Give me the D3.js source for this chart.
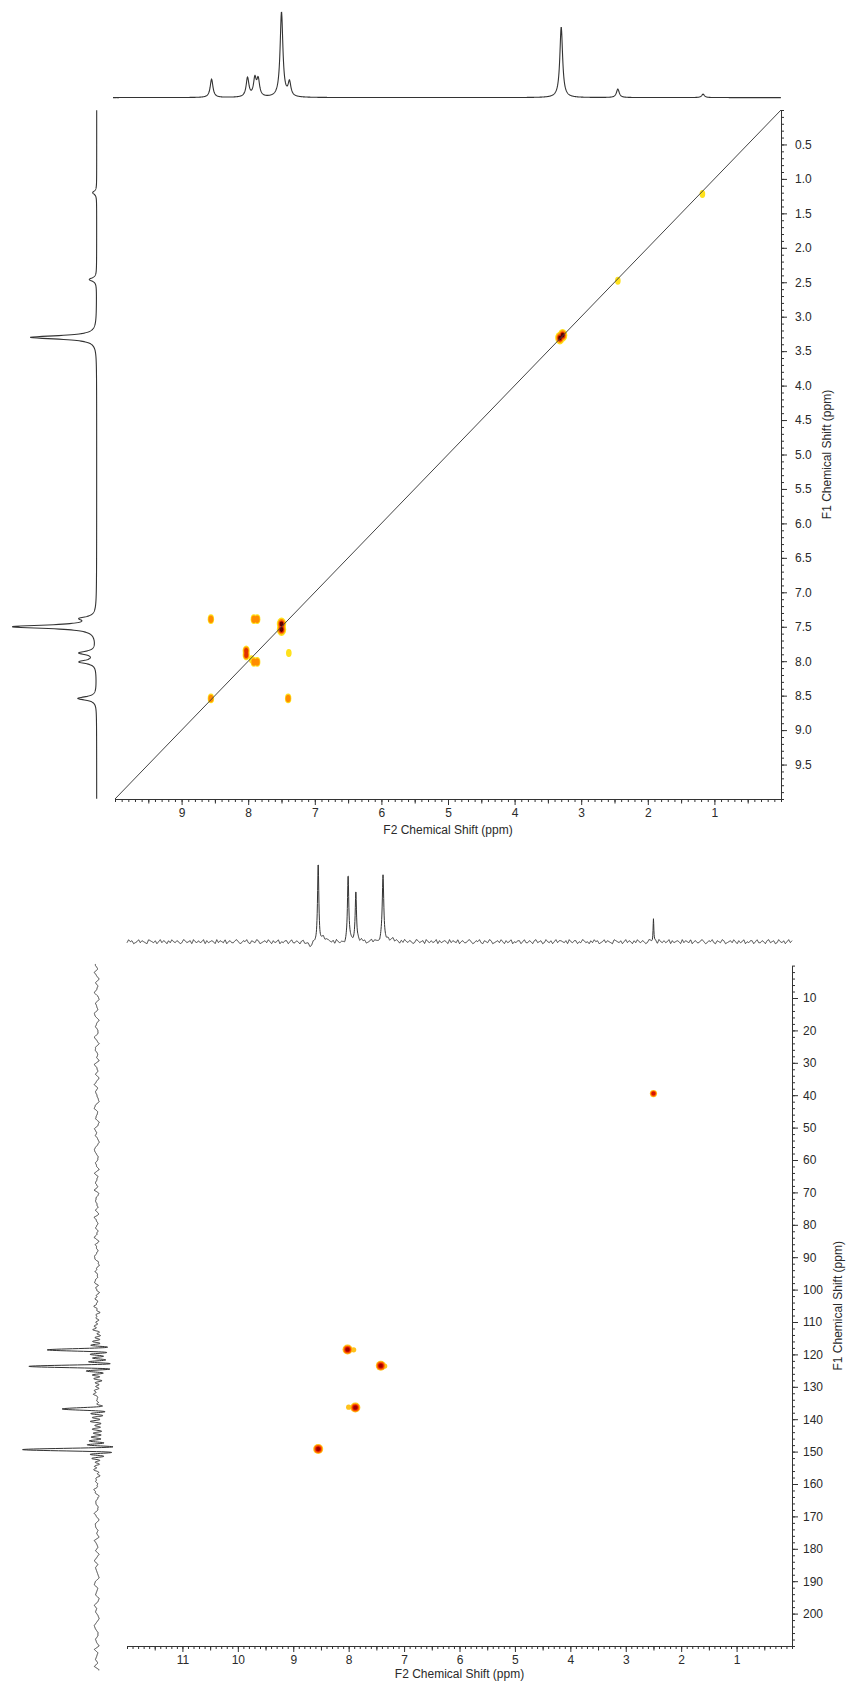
<!DOCTYPE html>
<html>
<head>
<meta charset="utf-8">
<title>COSY and HSQC spectra</title>
<style>
  body { margin: 0; background: #fff; }
  svg { display: block; }
  .tick text { font-family: "Liberation Sans", Arial, sans-serif; font-size: 12px; fill: #2a2a2a; }
  .title { font-family: "Liberation Sans", Arial, sans-serif; font-size: 12px; fill: #2a2a2a; }
</style>
</head>
<body>
<script src="https://cdn.jsdelivr.net/npm/d3@7"></script>
<script>

var W = 847, H = 1681;

// ---------- COSY (top panel) ----------
// 1D projections: shift (ppm) and relative height
var cosyTopShift   = [8.55, 8.01, 7.90, 7.85, 7.50, 7.38, 3.30, 2.45, 1.17];
var cosyTopHeight  = [21.5, 22.5, 20.5, 19.5, 100, 16.5, 83, 10, 4];
var cosySideShift  = [8.54, 8.01, 7.88, 7.50, 7.38, 3.30, 2.46, 1.20];
var cosySideHeight = [22.5, 20, 20, 100, 15.5, 79.5, 8.8, 4.8];

// cross peaks: F2, F1, contour level (1 lowest .. 4 highest)
var cosyCrossF2    = [8.56, 7.915, 7.865, 7.50, 7.50, 8.03, 8.03, 7.39, 7.915, 7.865, 7.95, 8.56, 7.40, 3.32, 3.28, 2.45, 1.18];
var cosyCrossF1    = [7.39, 7.39, 7.39, 7.46, 7.54, 7.85, 7.91, 7.88, 8.01, 8.01, 7.97, 8.54, 8.54, 3.31, 3.27, 2.48, 1.22];
var cosyCrossLevel = [2, 2, 2, 4, 4, 3, 3, 1, 2, 2, 1, 2, 2, 4, 4, 1, 1];

var cosyF2Ticks = [9, 8, 7, 6, 5, 4, 3, 2, 1];
var cosyF1Ticks = [0.5, 1.0, 1.5, 2.0, 2.5, 3.0, 3.5, 4.0, 4.5, 5.0, 5.5, 6.0, 6.5, 7.0, 7.5, 8.0, 8.5, 9.0, 9.5];

// ---------- HSQC (bottom panel) ----------
var hsqcTopShift  = [8.68, 8.55, 8.45, 8.10, 8.01, 7.87, 7.38, 7.25, 2.50];
var hsqcTopHeight = [-5, 100, 4, -3, 87, 66, 84, 3, 30];
var hsqcTopWidth  = [0.15, 0.028, 0.1, 0.1, 0.028, 0.028, 0.032, 0.15, 0.016];
var hsqcSideShift  = [118.6, 123.7, 136.8, 149.4];
var hsqcSideHeight = [62, 91, 46, 100];

var hsqcCrossF2    = [8.02, 7.91, 7.42, 7.35, 7.88, 8.00, 8.55, 2.50];
var hsqcCrossF1    = [118.5, 118.6, 123.5, 123.6, 136.4, 136.3, 149.2, 39.5];
var hsqcCrossLevel = [4, 1, 4, 1, 4, 1, 4, 3];

var hsqcF2Ticks = [11, 10, 9, 8, 7, 6, 5, 4, 3, 2, 1];
var hsqcF1Ticks = [10, 20, 30, 40, 50, 60, 70, 80, 90, 100, 110, 120, 130, 140, 150, 160, 170, 180, 190, 200];

// baseline noise of the HSQC projections
var baselineNoise = [
   1, -1, 2, 0, -2, 1, -1, 0, 2, -1,
  -2, 1, 0, -1, 2, 1, -2, 0, 1, -1,
  -1, 2, 0, -2, 1, 1, -1, 0, -2, 2,
   0, -1, 1, -2, 0, 2, -1, 1, 0, -1,
  -2, 1, 2, -1, 0, 1, -2, -1, 2, 0,
   1, -1, -2, 0, 2, 1, -1, -1, 1, 0,
  -2, 2, -1, 0, 1, -1, 2, -2, 0, 1,
   0, -1, 1, -2, 2, 0, -1, 1, -1, 0,
   2, -2, 1, 0, -1, 1, 2, -1, -2, 0,
   1, -1, 0, 2, -1, 1, -2, 0, 1, -1,
   2, 0, -2, 1, -1, 0, 1, 2, -2, -1,
   0, 1, -1, 2, 0, -1, -2, 1, 0, 2,
  -1, 1, -2, 0, -1, 1, 2, -1, 0, -2,
   1, 1, -1, 0, 2, -2, 1, -1, 0, 1
];

// ---------- helpers ----------
function lorentz(v, p, h, w) { var hw = w / 2; return h * hw * hw / ((v - p) * (v - p) + hw * hw); }
function sinc(v, p, h, w) { var t = Math.PI * (v - p) / w; return Math.abs(t) < 1e-9 ? h : h * Math.sin(t) / t; }
function noiseAt(v, step) {
    var n = baselineNoise.length, t = v / step, i = Math.floor(t), f = t - i;
    var a = baselineNoise[((i % n) + n) % n], b = baselineNoise[(((i + 1) % n) + n) % n];
    return a + (b - a) * f;
}

var svg = d3.select("body").append("svg")
    .attr("width", W)
    .attr("height", H);

svg.append("defs").append("filter").attr("id", "soft")
    .append("feGaussianBlur").attr("stdDeviation", 0.6);

function drawAxis(g, axisGen, scale, minor, mid, major, fmt, pad) {
    g.attr("color", "#333");
    g.append("g").call(axisGen(scale).tickValues(minor).tickSize(3).tickSizeOuter(0).tickFormat(""));
    g.append("g").call(axisGen(scale).tickValues(mid).tickSize(4.5).tickFormat(""))
        .call(function(s) { s.select(".domain").remove(); });
    g.append("g").call(axisGen(scale).tickValues(major).tickSize(6).tickPadding(pad).tickFormat(fmt))
        .call(function(s) { s.select(".domain").remove(); });
}

function drawCross(g, f2, f1, level, xs, ys, colors, outer) {
    var pk = f2.map(function(d, i) { return {x: xs(d), y: ys(f1[i]), level: level[i]}; });
    var fac = [1, 0.78, 0.56, 0.38];
    colors.forEach(function(c, k) {
        g.selectAll(null)
            .data(pk.filter(function(p) { return p.level > k; }))
            .join("ellipse")
            .attr("cx", function(p) { return p.x; })
            .attr("cy", function(p) { return p.y; })
            .attr("rx", function(p) { return outer[p.level - 1][0] * fac[k]; })
            .attr("ry", function(p) { return outer[p.level - 1][1] * fac[k]; })
            .attr("fill", c);
    });
}

// ================= COSY =================
var x1 = d3.scaleLinear().domain([10, 0]).range([115, 781]);
var y1 = d3.scaleLinear().domain([0, 10]).range([110, 799]);
var topProj1  = d3.scaleLinear().domain([0, 100]).range([97.6, 12.7]);
var sideProj1 = d3.scaleLinear().domain([0, 100]).range([96.7, 13.3]);

var grid1 = d3.range(0, 2508).map(function(i) { return 10.03 - i * 0.004; });

var cosyTopTrace = grid1.map(function(v) {
    return [v, d3.sum(cosyTopShift, function(p, i) { return lorentz(v, p, cosyTopHeight[i], 0.05); })];
});
var cosySideTrace = grid1.map(function(v) {
    return [v, d3.sum(cosySideShift, function(p, i) { return lorentz(v, p, cosySideHeight[i], 0.06); })];
});

svg.append("path")
    .datum(cosyTopTrace)
    .attr("d", d3.line().x(function(d) { return x1(d[0]); }).y(function(d) { return topProj1(d[1]); }))
    .style("fill", "none").style("stroke", "#333").style("stroke-width", "1.1px");

svg.append("path")
    .datum(cosySideTrace.filter(function(d) { return d[0] >= 0 && d[0] <= 10; }))
    .attr("d", d3.line().x(function(d) { return sideProj1(d[1]); }).y(function(d) { return y1(d[0]); }))
    .style("fill", "none").style("stroke", "#333").style("stroke-width", "1.1px");

var cosyPeaks = svg.append("g").attr("filter", "url(#soft)");
drawCross(cosyPeaks, cosyCrossF2, cosyCrossF1, cosyCrossLevel, x1, y1,
    ["#ffe11a", "#ff8c00", "#e03000", "#640000"],
    [[2.8, 4.0], [3.2, 4.8], [3.6, 5.3], [4.7, 6.4]]);

// diagonal
svg.append("path")
    .datum([[10, 10], [0, 0]])
    .attr("d", d3.line().x(function(d) { return x1(d[0]); }).y(function(d) { return y1(d[1]); }))
    .style("stroke", "#444").style("stroke-width", "1px").style("fill", "none");

drawAxis(svg.append("g").attr("transform", "translate(0,799)"), d3.axisBottom, x1,
    d3.range(0, 101).map(function(i) { return i / 10; }),
    d3.range(0, 10).map(function(i) { return i + 0.5; }),
    cosyF2Ticks, d3.format("d"), 3);

drawAxis(svg.append("g").attr("transform", "translate(781,0)"), d3.axisRight, y1,
    d3.range(0, 101).map(function(i) { return i / 10; }),
    [], cosyF1Ticks, d3.format(".1f"), 8);

svg.append("text").attr("class", "title")
    .attr("x", (115 + 781) / 2).attr("y", 834)
    .attr("text-anchor", "middle")
    .text("F2 Chemical Shift (ppm)");

svg.append("text").attr("class", "title")
    .attr("transform", "translate(831," + ((110 + 799) / 2) + ") rotate(-90)")
    .attr("text-anchor", "middle")
    .text("F1 Chemical Shift (ppm)");

// ================= HSQC =================
var x2 = d3.scaleLinear().domain([12, 0]).range([127, 792]);
var y2 = d3.scaleLinear().domain([0, 210]).range([965.6, 1646]);
var topProj2  = d3.scaleLinear().domain([0, 100]).range([941.7, 864]);
var sideProj2 = d3.scaleLinear().domain([0, 100]).range([96.7, 24.3]);

var grid2 = d3.range(0, 3001).map(function(i) { return 12 - i * 0.004; });
var hsqcTopTrace = grid2.map(function(v) {
    return [v, d3.sum(hsqcTopShift, function(p, i) { return lorentz(v, p, hsqcTopHeight[i], hsqcTopWidth[i]); })
        + 1.3 * noiseAt(v, 0.03)];
});

var grid3 = d3.range(0, 4361).map(function(i) { return -0.5 + i * 0.05; });
var hsqcSideTrace = grid3.map(function(v) {
    return [v, d3.sum(hsqcSideShift, function(p, i) { return sinc(v, p, hsqcSideHeight[i], 0.6); })
        + 1.7 * noiseAt(v, 1.05)];
});

svg.append("path")
    .datum(hsqcTopTrace)
    .attr("d", d3.line().x(function(d) { return x2(d[0]); }).y(function(d) { return topProj2(d[1]); }))
    .style("fill", "none").style("stroke", "#333").style("stroke-width", "1px");

svg.append("path")
    .datum(hsqcSideTrace)
    .attr("d", d3.line().x(function(d) { return sideProj2(d[1]); }).y(function(d) { return y2(d[0]); }))
    .style("fill", "none").style("stroke", "#333").style("stroke-width", "1px");

var hsqcPeaks = svg.append("g").attr("filter", "url(#soft)");
drawCross(hsqcPeaks, hsqcCrossF2, hsqcCrossF1, hsqcCrossLevel, x2, y2,
    ["#ffc21a", "#ff5a00", "#d41400", "#a00000"],
    [[2.6, 2.6], [3.2, 3.2], [3.6, 3.6], [5.0, 5.0]]);

drawAxis(svg.append("g").attr("transform", "translate(0,1646)"), d3.axisBottom, x2,
    d3.range(0, 121).map(function(i) { return i / 10; }),
    d3.range(0, 12).map(function(i) { return i + 0.5; }),
    hsqcF2Ticks, d3.format("d"), 3);

drawAxis(svg.append("g").attr("transform", "translate(792,0)"), d3.axisRight, y2,
    d3.range(0, 106).map(function(i) { return i * 2; }),
    [], hsqcF1Ticks, d3.format("d"), 5);

svg.append("text").attr("class", "title")
    .attr("x", (127 + 792) / 2).attr("y", 1678)
    .attr("text-anchor", "middle")
    .text("F2 Chemical Shift (ppm)");

svg.append("text").attr("class", "title")
    .attr("transform", "translate(842," + ((965.6 + 1646) / 2) + ") rotate(-90)")
    .attr("text-anchor", "middle")
    .text("F1 Chemical Shift (ppm)");

</script>
</body>
</html>
